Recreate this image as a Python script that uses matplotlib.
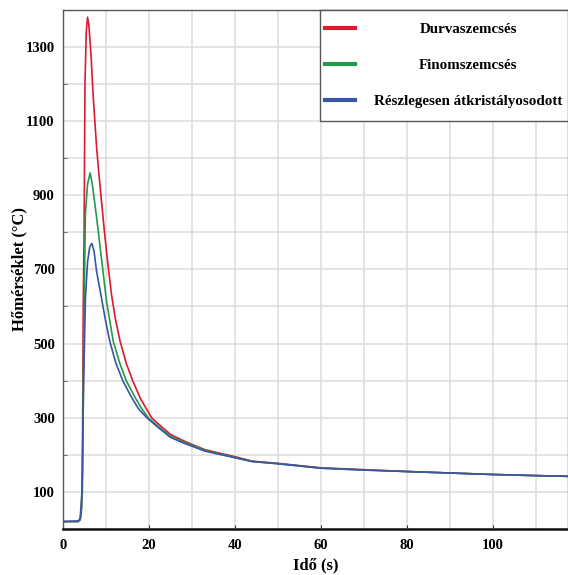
import matplotlib.pyplot as plt
from matplotlib.patches import Rectangle
from matplotlib.ticker import MultipleLocator

plt.rcParams['font.family'] = ['Liberation Serif', 'DejaVu Serif']
plt.rcParams['font.weight'] = 'bold'

# Durvaszemcsés
t_durva = [0, 3.5, 4.0, 4.3, 4.5, 4.7, 4.9, 5.1, 5.4, 5.7, 6.0, 6.5, 7.0, 7.8, 8.4, 9.6, 10.4, 11.3,
           12.2, 13.3, 14.7, 16.2, 18.0, 20.6, 22, 25, 28, 30, 33, 37, 40, 44, 50, 55, 60, 70, 80, 90,
           100, 110, 117.5]
T_durva = [20, 20, 25, 60, 150, 600, 800, 1200, 1340, 1380, 1360, 1280, 1170, 1030, 950, 805, 718, 630,
           565, 505, 447, 400, 352, 300, 285, 255, 238, 228, 214, 203, 195, 183, 177, 171, 165, 160, 155,
           151, 147, 144, 142]

# Finomszemcsés
t_finom = [0, 3.5, 4.0, 4.3, 4.5, 4.8, 5.2, 5.7, 6.3, 6.8, 7.8, 9.0, 10.1, 11.7, 13.2, 14.7, 16.5, 18,
           19.8, 22, 25, 28, 33, 40, 44, 50, 60, 70, 80, 90, 100, 110, 117.5]
T_finom = [20, 20, 25, 50, 100, 500, 850, 930, 960, 930, 841, 724, 615, 505, 447, 400, 360, 330,
           300, 278, 250, 235, 212, 193, 182, 176, 164, 159, 155, 151, 147, 144, 142]

# Részlegesen átkristályosodott
t_reszl = [0, 3.6, 4.0, 4.4, 4.8, 5.2, 5.7, 6.2, 6.7, 7.2, 7.8, 8.6, 9.8, 10.9, 12.3, 13.9, 15.7, 17.5,
           19.5, 22, 25, 28, 33, 40, 44, 50, 60, 70, 80, 90, 100, 110, 117.5]
T_reszl = [20, 22, 30, 100, 400, 620, 720, 760, 770, 750, 695, 645, 567, 505, 447, 400, 360, 325,
           300, 275, 247, 232, 210, 192, 182, 176, 164, 159, 155, 151, 147, 144, 142]

labels = ['Durvaszemcsés', 'Finomszemcsés', 'Részlegesen átkristályosodott']
colors = ['#d91a2f', '#249a4a', '#3a55a6']

fig = plt.figure(figsize=(5.68, 5.75), dpi=100)
ax = fig.add_axes([0.111, 0.08, 0.889, 0.903])

ax.plot(t_durva, T_durva, color=colors[0], lw=1.2, label=labels[0])
ax.plot(t_finom, T_finom, color=colors[1], lw=1.2, label=labels[1])
ax.plot(t_reszl, T_reszl, color=colors[2], lw=1.2, label=labels[2])

ax.set_xlim(0, 117.5)
ax.set_ylim(0, 1400)
ax.set_xticks([0, 20, 40, 60, 80, 100])
ax.xaxis.set_minor_locator(MultipleLocator(10))
ax.set_yticks([100, 300, 500, 700, 900, 1100, 1300])
ax.yaxis.set_minor_locator(MultipleLocator(100))
ax.grid(True, which='both', color='#dcdcdc', lw=1.1)
ax.set_axisbelow(True)
ax.tick_params(axis='y', which='major', length=0, labelsize=10.5, pad=6)
ax.tick_params(axis='x', which='major', length=3, direction='in', color='#333333',
               labelsize=10.5, pad=7)
ax.tick_params(axis='x', which='minor', length=0)
ax.tick_params(axis='y', which='minor', length=3, direction='in', color='#555555')

for s in ['left', 'top', 'right']:
    ax.spines[s].set_color('#555555')
    ax.spines[s].set_linewidth(1.0)
ax.spines['bottom'].set_color('#111111')
ax.spines['bottom'].set_linewidth(1.8)

ax.set_xlabel('Idő (s)', fontsize=12, fontweight='bold')
ax.set_ylabel('Hőmérséklet (°C)', fontsize=12, fontweight='bold')
ax.xaxis.set_label_coords(0.5, -0.055)
ax.yaxis.set_label_coords(-0.071, 0.5)

# legend box drawn separately so the padding can differ vertically / horizontally
box = Rectangle((0.509, 0.786), 0.491, 0.214, transform=ax.transAxes, facecolor='white',
                edgecolor='#555555', lw=1.0, zorder=4, clip_on=False)
ax.add_patch(box)
leg = ax.legend(loc='center', bbox_to_anchor=(0.7545, 0.893), borderpad=0, fontsize=10.8,
                handlelength=1.95, handletextpad=1.3, labelspacing=1.5, frameon=False)
for h in leg.get_lines():
    h.set_linewidth(3)

# centre the legend texts in the space right of the handles
fig.canvas.draw()
r = fig.canvas.get_renderer()
widths = [t.get_window_extent(r).width for t in leg.get_texts()]
rows = leg._legend_handle_box.get_children()[0].get_children()
for row, w in zip(rows, widths):
    row.sep = 1.3 * 10.8 + (max(widths) - w) / 2 * 72 / fig.dpi

fig.savefig('out.png', dpi=100)
